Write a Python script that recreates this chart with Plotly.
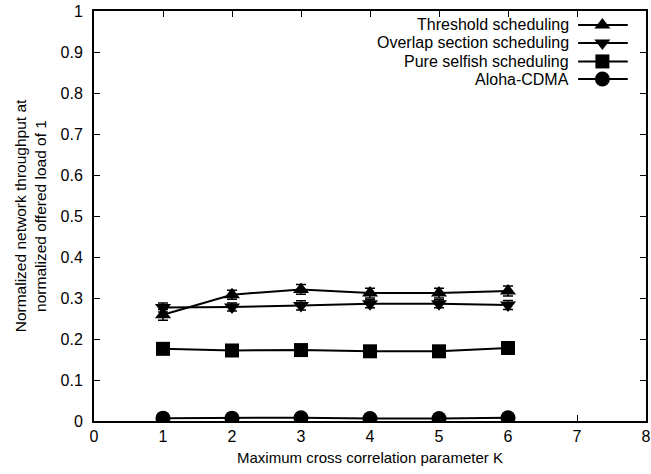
import plotly.graph_objects as go

K = [1, 2, 3, 4, 5, 6]
threshold = [0.259, 0.308, 0.321, 0.312, 0.312, 0.317]
threshold_err = [0.013, 0.011, 0.012, 0.012, 0.012, 0.012]
overlap = [0.277, 0.278, 0.282, 0.286, 0.286, 0.283]
overlap_err = [0.011, 0.010, 0.011, 0.010, 0.010, 0.011]
selfish = [0.176, 0.172, 0.173, 0.170, 0.170, 0.178]
aloha = [0.007, 0.007, 0.008, 0.006, 0.006, 0.008]

names = ["Threshold scheduling", "Overlap section scheduling",
         "Pure selfish scheduling", "Aloha-CDMA"]
symbols = ["triangle-up", "triangle-down", "square", "circle"]
sizes = [14, 14, 14, 15]
series = [threshold, overlap, selfish, aloha]
errors = [threshold_err, overlap_err, None, None]

FONT = "Liberation Sans, Arial, sans-serif"
fig = go.Figure()

for name, ys, err, sym, sz in zip(names, series, errors, symbols, sizes):
    kw = {}
    if err is not None:
        kw["error_y"] = dict(type="data", array=err, visible=True,
                             color="black", thickness=1.5, width=5)
    fig.add_trace(go.Scatter(
        x=K, y=ys, mode="lines+markers", name=name,
        line=dict(color="black", width=2),
        marker=dict(symbol=sym, size=sz, color="black"),
        showlegend=False, **kw))

# gnuplot-style key: text then sample to the right
key_y = [0.966, 0.922, 0.877, 0.834]
for name, sym, sz, ky in zip(names, symbols, sizes, key_y):
    fig.add_trace(go.Scatter(
        x=[0.877, 0.967], y=[ky, ky], mode="lines", xaxis="x2", yaxis="y2",
        line=dict(color="black", width=2), showlegend=False, hoverinfo="skip"))
    fig.add_trace(go.Scatter(
        x=[0.921], y=[ky], mode="markers", xaxis="x2", yaxis="y2",
        marker=dict(symbol=sym, size=sz, color="black"),
        showlegend=False, hoverinfo="skip"))
    fig.add_annotation(x=0.864, y=ky, xref="paper", yref="paper",
                       text=name, showarrow=False, xanchor="right",
                       yanchor="middle",
                       font=dict(family=FONT, size=16, color="black"))

axis_common = dict(showgrid=False, zeroline=False, showline=True,
                   linecolor="black", linewidth=2, mirror="ticks",
                   ticks="inside", ticklen=6, tickwidth=1, tickcolor="black",
                   automargin=False,
                   tickfont=dict(family=FONT, size=16, color="black"))

fig.update_layout(
    width=651, height=474,
    margin=dict(l=94, r=5, t=11, b=53),
    paper_bgcolor="white", plot_bgcolor="white",
    font=dict(family=FONT, color="black"),
    xaxis=dict(range=[0, 8], dtick=1, tick0=0,
               title=dict(text="Maximum cross correlation parameter K",
                          font=dict(family=FONT, size=15), standoff=8),
               **axis_common),
    yaxis=dict(range=[0, 1], dtick=0.1, tick0=0,
               tickvals=[0, 0.1, 0.2, 0.3, 0.4, 0.5, 0.6, 0.7, 0.8, 0.9, 1],
               ticktext=["0", "0.1", "0.2", "0.3", "0.4", "0.5", "0.6",
                         "0.7", "0.8", "0.9", "1"],
               ticklabelstandoff=6,
               title=dict(text="Normalized network throughput at<br>normalized offered load of 1",
                          font=dict(family=FONT, size=15.5), standoff=10),
               **axis_common),
    xaxis2=dict(range=[0, 1], overlaying="x", visible=False, anchor="y2"),
    yaxis2=dict(range=[0, 1], overlaying="y", visible=False, anchor="x2"),
)

fig.write_html("out.html", config={"displayModeBar": False},
               post_script="document.body.style.margin='0';document.body.style.overflow='hidden';")
